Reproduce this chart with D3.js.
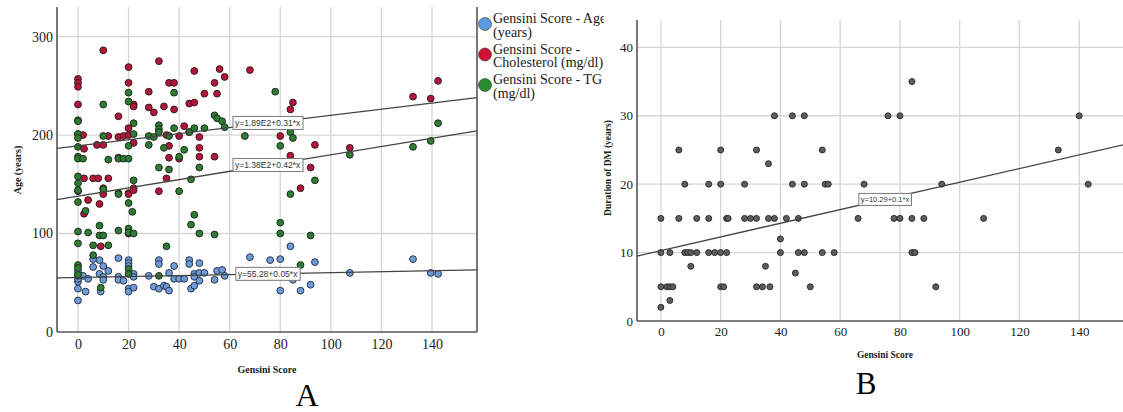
<!DOCTYPE html>
<html>
<head>
<meta charset="utf-8">
<title>Gensini Score scatter plots</title>
<script src="https://d3js.org/d3.v7.min.js" charset="utf-8"></script>
<style>
  html, body { margin: 0; padding: 0; background: #fff; }
  svg { display: block; }
</style>
</head>
<body>
<div id="chart"></div>
<script>
// ---- data ----
// panel A: [Gensini score, value]
const ageData = [[0,32],[0,44],[3,41],[0,51],[0,54],[0,57],[0,59],[0,62],[2,57],[4,54],[6,74],[8.5,73],[6,66],[8.5,59],[10,67],[10,56],[10,53],[12,62],[9,41],[16,75],[16,56],[16,53],[18,52],[20,73],[20,70],[20,67],[20,44],[20,41],[22,45],[22,59],[22,56],[28,57],[30,46],[32,73],[32,69],[32,44],[34,47],[35,46],[36,60],[36,42],[38,67],[38,54],[40,54],[42,54],[44,73],[44,69],[44.7,44],[46,47],[46,59],[46,56],[48,70],[48,60],[48,52],[50,60],[54,53],[55,62],[57,63],[58,57],[68,76],[76,73],[80,74],[80,42],[84,87],[85,53],[88,42],[92,48],[93.7,71],[107.5,60],[132.5,74],[139.5,60],[142.4,59]];

const cholData = [[10,286],[0,257],[0,253],[0,249],[0,231],[0,201],[2,200],[2.4,186],[20,269],[20,253],[22,231],[22,229],[32,275],[28,244],[28,228],[30,223],[34,229],[36,253],[38,253],[38,226],[46,265],[44,232],[46,233],[50,242],[54,253],[55,242],[56,267],[58,259],[68,266],[16,219],[16,198],[18,199],[20,200],[20,207],[22,192],[10,190],[7.5,190],[12,199],[16,177],[36,189],[36,177],[42,209],[40,199],[44,203],[48,198],[48,187],[48,178],[54,178],[40,176],[35,200],[80,199],[84,226],[85,233],[84,179],[93.7,190],[92,167],[88,146],[2.4,156],[6,156],[8,156],[12,156],[0,143],[10,146],[20,141],[22,146],[32,143],[35,156],[4,134],[8.5,130],[10,140],[20,140],[22,144],[20,100],[9,87],[2.4,120],[132.5,239],[139.5,237],[142.4,255],[107.5,187]];

const tgData = [[0,215],[0,214],[0,201],[0,197],[0,188],[0,178],[0,176],[2,176],[0,158],[0,151],[0,144],[10,231],[10,199],[12,175],[16,176],[18,176],[20,176],[20,243],[20,234],[22,212],[22,201],[20,189],[22,154],[10,145],[16,141],[28,199],[28,190],[32,210],[32,206],[32,203],[30,198],[34,187],[36,199],[38,207],[38,243],[32,167],[36,165],[42,185],[40,178],[44,203],[46,207],[48,167],[44.7,155],[50,207],[54,220],[55,217],[57,214],[58,208],[66,199],[78,244],[80,189],[84,203],[85,197],[93.7,154],[84,140],[40,143],[0,132],[3,123],[0,102],[4,101],[8.5,108],[8.5,98],[10,98],[6,88],[0,90],[12,88],[16,103],[20,105],[20,101],[22,100],[20,131],[21.5,122],[16,140],[0,68],[0,65],[0,58],[6,78],[9,45],[20,64],[20,59],[32,57],[35,87],[44.7,109],[46,119],[48,100],[54,99],[80,111],[80,100],[92,98],[88,68],[142.4,212],[139.5,194],[132.5,188],[107.5,180]];

// panel B: [Gensini score, duration of DM]
const durationData = [[6,25],[20,25],[32,25],[54,25],[133,25],[38,30],[44,30],[48,30],[76,30],[80,30],[140,30],[84,35],[36,23],[8,20],[16,20],[20,20],[28,20],[44,20],[48,20],[55,20],[56,20],[68,20],[94,20],[143,20],[0,15],[6,15],[12,15],[16,15],[22,15],[22.5,15],[28,15],[30,15],[32,15],[36,15],[38,15],[42,15],[46,15],[66,15],[78,15],[80,15],[84,15],[88,15],[108,15],[40,12],[0,10],[3,10],[8,10],[9,10],[10,10],[12,10],[16,10],[18,10],[20,10],[22,10],[40,10],[46,10],[48,10],[54,10],[58,10],[84,10],[85,10],[10,8],[35,8],[45,7],[0,5],[2,5],[3,5],[4,5],[20,5],[21,5],[32,5],[34,5],[36.5,5],[50,5],[92,5],[3,3],[0,2]];

// fit lines [intercept, slope] and their labels
const fitAge = [55.28, 0.05];
const fitChol = [189, 0.31];
const fitTg = [138, 0.42];
const fitDuration = [10.29, 0.1];
const fitLabelsA = ["y=55.28+0.05*x", "y=1.89E2+0.31*x", "y=1.38E2+0.42*x"];
const fitLabelB = "y=10.29+0.1*x";

const legendLabels = [["Gensini Score - Age", "(years)"], ["Gensini Score -", "Cholesterol (mg/dl)"], ["Gensini Score - TG", "(mg/dl)"]];
const xTicks = [0, 20, 40, 60, 80, 100, 120, 140];
const yTicksA = [0, 100, 200, 300];
const yTicksB = [0, 10, 20, 30, 40];

// ---- drawing ----
const width = 1123, height = 412;
const serif = "'Liberation Serif', 'DejaVu Serif', serif";
const sans = "'Liberation Sans', Arial, sans-serif";

const svg = d3.select("#chart").append("svg")
    .attr("width", width)
    .attr("height", height);

svg.append("rect").attr("width", width).attr("height", height).attr("fill", "#fff");

// draws grid, axes for one panel
function drawPanel(g, x, y, yTicks, fontSize, xPad) {
    const [x0, x1] = x.range();
    const [y0, y1] = y.range();

    g.append("g").selectAll("line").data(xTicks).join("line")
        .attr("x1", d => x(d)).attr("x2", d => x(d))
        .attr("y1", y1).attr("y2", y0)
        .attr("stroke", "#d6d6d6").attr("stroke-width", 1.3);
    g.append("g").selectAll("line").data(yTicks.filter(d => d > 0)).join("line")
        .attr("x1", x0).attr("x2", x1)
        .attr("y1", d => y(d)).attr("y2", d => y(d))
        .attr("stroke", "#d6d6d6").attr("stroke-width", 1.3);

    const xAxis = g.append("g")
        .attr("transform", `translate(0,${y0})`)
        .call(d3.axisBottom(x).tickValues(xTicks).tickSize(0).tickPadding(xPad));
    const yAxis = g.append("g")
        .attr("transform", `translate(${x0},0)`)
        .call(d3.axisLeft(y).tickValues(yTicks).tickSize(0).tickPadding(4));
    [xAxis, yAxis].forEach(a => {
        a.select(".domain").remove();
        a.attr("font-family", null).attr("font-size", null);
        a.selectAll("text")
            .style("font-family", serif)
            .style("font-size", fontSize + "px")
            .attr("fill", "#1a1a1a");
    });

    g.append("line").attr("x1", x0).attr("x2", x0).attr("y1", y1).attr("y2", y0)
        .attr("stroke", "#555").attr("stroke-width", 1.6);
    g.append("line").attr("x1", x0).attr("x2", x1).attr("y1", y0).attr("y2", y0)
        .attr("stroke", "#555").attr("stroke-width", 1.6);
}

function drawFit(g, x, y, fit, label, fontSize) {
    const [d0, d1] = x.domain();
    const f = v => fit[0] + fit[1] * v;
    g.append("line")
        .attr("x1", x(d0)).attr("y1", y(f(d0)))
        .attr("x2", x(d1)).attr("y2", y(f(d1)))
        .attr("stroke", "#444").attr("stroke-width", 1.3);
    // label box sits on the line around x = 75
    const lx = x(75), ly = y(f(75));
    const lab = g.append("g").attr("transform", `translate(${lx},${ly})`);
    const t = lab.append("text")
        .attr("text-anchor", "middle").attr("dy", "0.35em")
        .attr("font-family", sans).attr("font-size", fontSize).attr("fill", "#333")
        .text(label);
    const bb = t.node().getBBox();
    lab.insert("rect", "text")
        .attr("x", bb.x - 2).attr("y", bb.y - 1.5)
        .attr("width", bb.width + 4).attr("height", bb.height + 3)
        .attr("fill", "#fff").attr("stroke", "#777").attr("stroke-width", 1);
}

// ---------- Panel A ----------
const xA = d3.scaleLinear().domain([-8.3, 157.8]).range([57, 477]);
const yA = d3.scaleLinear().domain([0, 330]).range([332, 7]);
const gA = svg.append("g");
drawPanel(gA, xA, yA, yTicksA, 14, 7);

gA.append("line").attr("x1", 477).attr("x2", 477).attr("y1", 7).attr("y2", 332)
    .attr("stroke", "#555").attr("stroke-width", 1.6);

const seriesA = [
    { data: ageData, fill: "#6f9bd6", stroke: "#26354f" },
    { data: cholData, fill: "#b3163c", stroke: "#3a181c" },
    { data: tgData, fill: "#2f7a35", stroke: "#19301a" }
];
seriesA.forEach(s => {
    gA.append("g").selectAll("circle").data(s.data).join("circle")
        .attr("cx", d => xA(d[0])).attr("cy", d => yA(d[1]))
        .attr("r", 3.4)
        .attr("fill", s.fill).attr("stroke", s.stroke).attr("stroke-width", 1);
});

drawFit(gA, xA, yA, fitChol, fitLabelsA[1], 8.5);
drawFit(gA, xA, yA, fitTg, fitLabelsA[2], 8.5);
drawFit(gA, xA, yA, fitAge, fitLabelsA[0], 8.5);

// legend, cut off where panel B starts
svg.append("clipPath").attr("id", "legend-clip")
    .append("rect").attr("x", 0).attr("y", 0).attr("width", 604).attr("height", height);
const legend = svg.append("g").attr("clip-path", "url(#legend-clip)");
const legendColors = ["#5b9ae0", "#d0112f", "#2a8a30"];
legendLabels.forEach((lines, i) => {
    const cy = 24 + i * 30.5;
    legend.append("circle").attr("cx", 485).attr("cy", cy).attr("r", 6.5)
        .attr("fill", legendColors[i]).attr("stroke", "#333").attr("stroke-width", 0.6);
    lines.forEach((l, j) => {
        legend.append("text")
            .attr("x", 493).attr("y", cy - 1 + j * 13.5)
            .attr("font-family", serif).attr("font-size", 14).attr("fill", "#1a1a1a")
            .text(l);
    });
});

gA.append("text")
    .attr("transform", "translate(21,170) rotate(-90)")
    .attr("text-anchor", "middle")
    .attr("font-family", serif).attr("font-size", 10).attr("font-weight", "bold").attr("fill", "#222")
    .text("Age (years)");
gA.append("text")
    .attr("x", 267).attr("y", 373).attr("text-anchor", "middle")
    .attr("font-family", serif).attr("font-size", 10).attr("font-weight", "bold").attr("fill", "#222")
    .text("Gensini Score");
gA.append("text")
    .attr("x", 307).attr("y", 406).attr("text-anchor", "middle")
    .attr("font-family", serif).attr("font-size", 32).attr("fill", "#000")
    .text("A");

// ---------- Panel B ----------
const xB = d3.scaleLinear().domain([-8, 158]).range([637, 1133]);
const yB = d3.scaleLinear().domain([0, 44]).range([321, 20]);
const gB = svg.append("g");
drawPanel(gB, xB, yB, yTicksB, 13, 6);

gB.append("g").selectAll("circle").data(durationData).join("circle")
    .attr("cx", d => xB(d[0])).attr("cy", d => yB(d[1]))
    .attr("r", 3)
    .attr("fill", "#5e5e5e").attr("stroke", "#222").attr("stroke-width", 0.9);

drawFit(gB, xB, yB, fitDuration, fitLabelB, 7.5);

gB.append("text")
    .attr("transform", "translate(611,168) rotate(-90)")
    .attr("text-anchor", "middle")
    .attr("font-family", serif).attr("font-size", 9.5).attr("font-weight", "bold").attr("fill", "#222")
    .text("Duration of DM (years)");
gB.append("text")
    .attr("x", 885).attr("y", 358).attr("text-anchor", "middle")
    .attr("font-family", serif).attr("font-size", 9.5).attr("font-weight", "bold").attr("fill", "#222")
    .text("Gensini Score");
gB.append("text")
    .attr("x", 866).attr("y", 394).attr("text-anchor", "middle")
    .attr("font-family", serif).attr("font-size", 31).attr("fill", "#000")
    .text("B");
</script>
</body>
</html>
